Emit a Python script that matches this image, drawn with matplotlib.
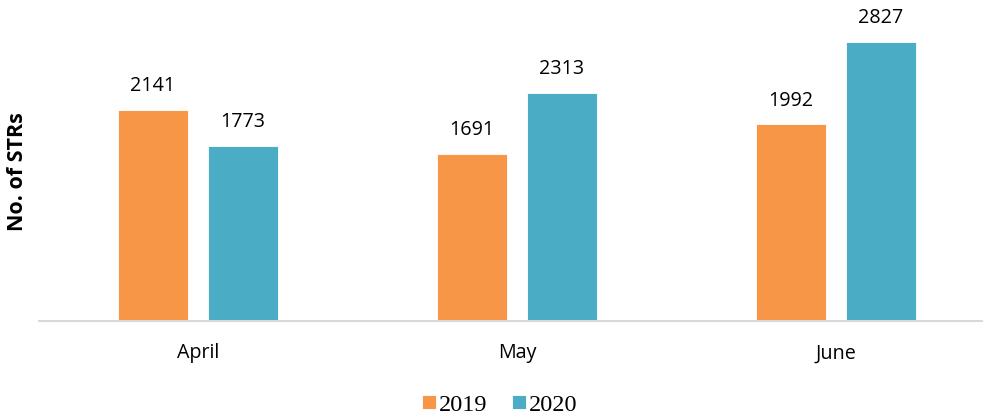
import numpy as np
import matplotlib.pyplot as plt

months = ["April", "May", "June"]
years = ["2019", "2020"]
v2019 = [2141, 1691, 1992]
v2020 = [1773, 2313, 2827]
colors = ["#F79646", "#4BACC6"]

fig = plt.figure(figsize=(9.83, 4.19), dpi=100)
# axes in pixel units: left 38.5, bottom at y=321, x span 957 px
ax = fig.add_axes([38.5 / 983, (419 - 321) / 419, 957 / 983, 300 / 419])

x = np.arange(len(months))
w = 0.22
off = 0.141
for vals, c, lab, d in zip([v2019, v2020], colors, years, [-off, off]):
    ax.bar(x + d, vals, w, color=c, label=lab, edgecolor="white", linewidth=0.6)
    for xi, v in zip(x + d, vals):
        ax.annotate(str(v), (xi, v), xytext=(0, 10), textcoords="offset points",
                    ha="center", va="bottom", fontsize=14.2, family="Open Sans")

ax.set_xlim(-0.5, 2.5)
ax.set_ylim(0, 3040)
for s in ["top", "right", "left"]:
    ax.spines[s].set_visible(False)
ax.spines["bottom"].set_color("#D9D9D9")
ax.spines["bottom"].set_linewidth(1.5)
ax.set_yticks([])
ax.set_xticks(x)
ax.set_xticklabels(months, fontsize=14.2, family="Open Sans")
ax.tick_params(axis="x", length=0, pad=16)

fig.text(0.018, (419 - 172) / 419, "No. of STRs", rotation=90, ha="center", va="center",
         fontsize=15.5, fontweight="bold", family="Open Sans")

fig.legend(loc="center", bbox_to_anchor=(500 / 983, (419 - 405) / 419), ncol=2, frameon=False,
           prop={"family": "Liberation Serif", "size": 17.5}, handlelength=0.55, handleheight=0.55,
           handletextpad=0.15, columnspacing=1.0)

fig.savefig("out.png", dpi=100)
